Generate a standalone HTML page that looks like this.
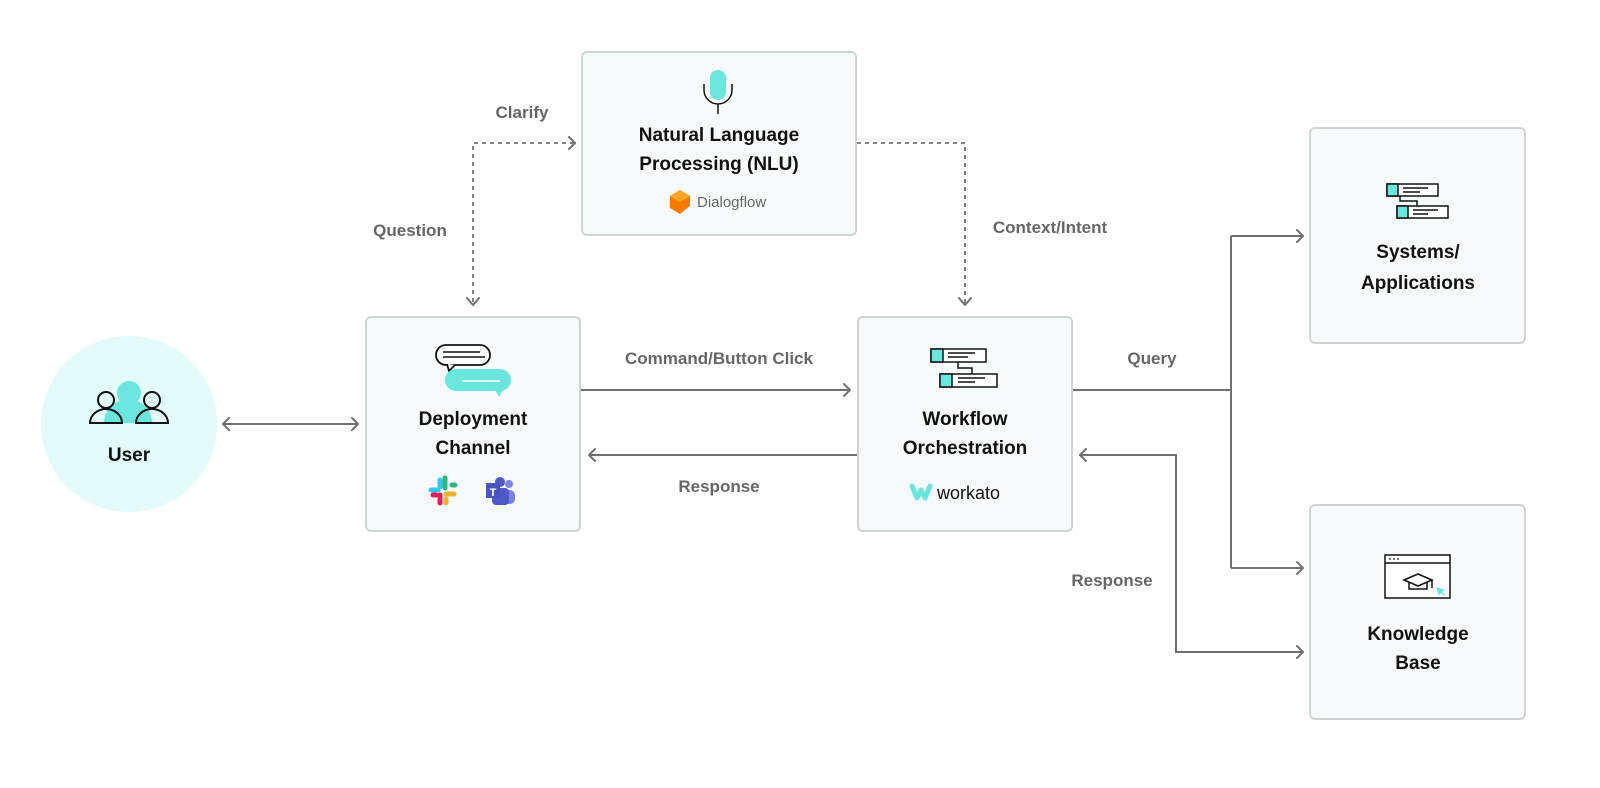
<!DOCTYPE html>
<html><head><meta charset="utf-8"><style>
html,body{margin:0;padding:0;background:#fff;}
svg{display:block;font-family:"Liberation Sans",sans-serif;}
.t{font-size:19px;font-weight:bold;fill:#111;text-anchor:middle;}
.l{font-size:17px;font-weight:bold;fill:#666;text-anchor:middle;}
.box{fill:#f7fafb;stroke:#cfd3d5;stroke-width:2;}
.ln{stroke:#707070;stroke-width:2;fill:none;}
.dl{stroke:#808080;stroke-width:2;fill:none;stroke-dasharray:4 4;}
.ah{stroke:#707070;stroke-width:2;fill:none;stroke-linecap:round;stroke-linejoin:round;}
</style></head><body>
<svg width="1600" height="788" viewBox="0 0 1600 788">
<!-- user -->
<circle cx="129" cy="424" r="88" fill="#e2fbf9"/>
<path d="M104 423 a24 24 0 0 1 48 0 z" fill="#6be6dc"/>
<circle cx="129" cy="393" r="12" fill="#6be6dc"/>
<circle cx="106" cy="400" r="8" fill="none" stroke="#111" stroke-width="2"/>
<path d="M90 423 a16 14 0 0 1 32 0 z" fill="none" stroke="#111" stroke-width="2"/>
<circle cx="152" cy="400" r="8" fill="none" stroke="#111" stroke-width="2"/>
<path d="M136 423 a16 14 0 0 1 32 0 z" fill="none" stroke="#111" stroke-width="2"/>
<text x="129" y="461" class="t">User</text>

<!-- boxes -->
<rect x="582" y="52" width="274" height="183" rx="5" class="box"/>
<rect x="366" y="317" width="214" height="214" rx="5" class="box"/>
<rect x="858" y="317" width="214" height="214" rx="5" class="box"/>
<rect x="1310" y="128" width="215" height="215" rx="5" class="box"/>
<rect x="1310" y="505" width="215" height="214" rx="5" class="box"/>

<!-- NLU -->
<rect x="710" y="70" width="16" height="30" rx="8" fill="#6be6dc"/>
<path d="M704 84 v6 a14 14 0 0 0 28 0 v-6" fill="none" stroke="#111" stroke-width="1.5"/>
<line x1="718" y1="104" x2="718" y2="114" stroke="#111" stroke-width="1.5"/>
<text x="719" y="141" class="t">Natural Language</text>
<text x="719" y="170" class="t">Processing (NLU)</text>
<path d="M670 196 l10 -6 l10 6 v10 l-10 8 l-10 -6z" fill="#f57c00"/>
<path d="M670 196 l10 -6 l10 6 l-10 6z" fill="#ffa726"/>
<text x="697" y="207" font-size="15" fill="#666">Dialogflow</text>

<!-- Deployment -->
<rect x="436" y="345" width="54" height="20" rx="10" fill="#fff" stroke="#111" stroke-width="1.8"/>
<path d="M447 364 l2 7 l6 -6" fill="#fff" stroke="#111" stroke-width="1.8"/>
<line x1="443" y1="352" x2="480" y2="352" stroke="#111" stroke-width="1.5"/>
<line x1="443" y1="357" x2="485" y2="357" stroke="#111" stroke-width="1.5"/>
<rect x="445" y="369" width="66" height="22" rx="11" fill="#6be6dc"/>
<path d="M495 390 l4 7 l4 -7z" fill="#6be6dc"/>
<line x1="462" y1="381" x2="500" y2="381" stroke="#fff" stroke-width="1.5"/>
<text x="473" y="425" class="t">Deployment</text>
<text x="473" y="454" class="t">Channel</text>
<g stroke-linecap="round" stroke-width="5">
<line x1="440" y1="480" x2="440" y2="487" stroke="#36c5f0"/><line x1="431" y1="490" x2="438" y2="490" stroke="#36c5f0"/>
<line x1="445" y1="478" x2="445" y2="488" stroke="#2eb67d"/><line x1="452" y1="485" x2="455" y2="485" stroke="#2eb67d"/>
<line x1="433" y1="495" x2="436" y2="495" stroke="#e01e5a"/><line x1="440" y1="495" x2="440" y2="503" stroke="#e01e5a"/>
<line x1="446" y1="494" x2="454" y2="494" stroke="#ecb22e"/><line x1="446" y1="499" x2="446" y2="503" stroke="#ecb22e"/>
</g>
<circle cx="509" cy="484" r="4" fill="#7b83eb"/>
<rect x="502" y="490" width="13" height="14" rx="5" fill="#7b83eb"/>
<circle cx="500" cy="482" r="5" fill="#5059c9"/>
<rect x="492" y="488" width="17" height="17" rx="4" fill="#5059c9"/>
<rect x="486" y="483" width="14" height="15" fill="#4b53bc"/>
<text x="493" y="496" font-size="11" fill="#fff" font-weight="bold" text-anchor="middle">T</text>

<!-- Workflow icon -->
<g stroke="#111" stroke-width="1.5" fill="none">
<rect x="931" y="349" width="55" height="13" fill="#fff"/><rect x="931" y="349" width="12" height="13" fill="#6be6dc"/>
<line x1="948" y1="353" x2="975" y2="353"/><line x1="948" y1="357" x2="968" y2="357"/>
<path d="M958 362 v6 h14 v6"/>
<rect x="940" y="374" width="57" height="13" fill="#fff"/><rect x="940" y="374" width="12" height="13" fill="#6be6dc"/>
<line x1="958" y1="378" x2="985" y2="378"/><line x1="958" y1="382" x2="975" y2="382"/>
</g>
<text x="965" y="425" class="t">Workflow</text>
<text x="965" y="454" class="t">Orchestration</text>
<path d="M912 486 l5 12 l4 -8 l4 8 l5 -12" fill="none" stroke="#6be6dc" stroke-width="5" stroke-linejoin="round" stroke-linecap="round"/>
<text x="937" y="499" font-size="18" fill="#111">workato</text>

<!-- Systems icon -->
<g stroke="#111" stroke-width="1.5" fill="none">
<rect x="1387" y="184" width="51" height="12" fill="#fff"/><rect x="1387" y="184" width="11" height="12" fill="#6be6dc"/>
<line x1="1403" y1="188" x2="1428" y2="188"/><line x1="1403" y1="192" x2="1420" y2="192"/>
<path d="M1400 196 v5 h17 v5"/>
<rect x="1397" y="206" width="51" height="12" fill="#fff"/><rect x="1397" y="206" width="11" height="12" fill="#6be6dc"/>
<line x1="1413" y1="210" x2="1438" y2="210"/><line x1="1413" y1="214" x2="1428" y2="214"/>
</g>
<text x="1418" y="258" class="t">Systems/</text>
<text x="1418" y="289" class="t">Applications</text>

<!-- Knowledge icon -->
<g stroke="#111" stroke-width="1.5" fill="none">
<rect x="1385" y="555" width="65" height="43" fill="#fff"/>
<line x1="1385" y1="563" x2="1450" y2="563"/>
<path d="M1404 580 l14 -6 l14 6 l-14 6z"/><path d="M1409 582 v7 h18 v-7"/>
<line x1="1432" y1="580" x2="1432" y2="588"/>
</g>
<circle cx="1390" cy="559" r="0.9" fill="#111"/><circle cx="1394" cy="559" r="0.9" fill="#111"/><circle cx="1398" cy="559" r="0.9" fill="#111"/>
<path d="M1436 587 l9 3 l-3 2 l3 3 l-1 1 l-3 -3 l-2 3z" fill="#6be6dc"/>
<text x="1418" y="640" class="t">Knowledge</text>
<text x="1418" y="669" class="t">Base</text>

<!-- connectors -->
<line x1="224" y1="424" x2="357" y2="424" class="ln"/>
<path d="M229 418 l-6 6 l6 6 M352 418 l6 6 l-6 6" class="ah"/>
<path d="M473 302 V143 H574" class="dl"/>
<path d="M467 298 l6 7 l6 -7 M569 137 l6 6 l-6 6" class="ah" stroke="#808080"/>
<path d="M857 143 H965 V303" class="dl"/>
<path d="M959 298 l6 7 l6 -7" class="ah" stroke="#808080"/>
<line x1="581" y1="390" x2="850" y2="390" class="ln"/>
<path d="M844 384 l6 6 l-6 6" class="ah"/>
<line x1="589" y1="455" x2="857" y2="455" class="ln"/>
<path d="M595 449 l-6 6 l6 6" class="ah"/>
<path d="M1073 390 H1231 M1231 236 V568 M1231 236 H1303 M1231 568 H1303" class="ln"/>
<path d="M1297 230 l6 6 l-6 6 M1297 562 l6 6 l-6 6" class="ah"/>
<path d="M1303 652 H1176 V455 H1080" class="ln"/>
<path d="M1086 449 l-6 6 l6 6 M1297 646 l6 6 l-6 6" class="ah"/>

<!-- labels -->
<text x="522" y="118" class="l">Clarify</text>
<text x="410" y="236" class="l">Question</text>
<text x="1050" y="233" class="l">Context/Intent</text>
<text x="719" y="364" class="l">Command/Button Click</text>
<text x="719" y="492" class="l">Response</text>
<text x="1152" y="364" class="l">Query</text>
<text x="1112" y="586" class="l">Response</text>
</svg>
</body></html>
